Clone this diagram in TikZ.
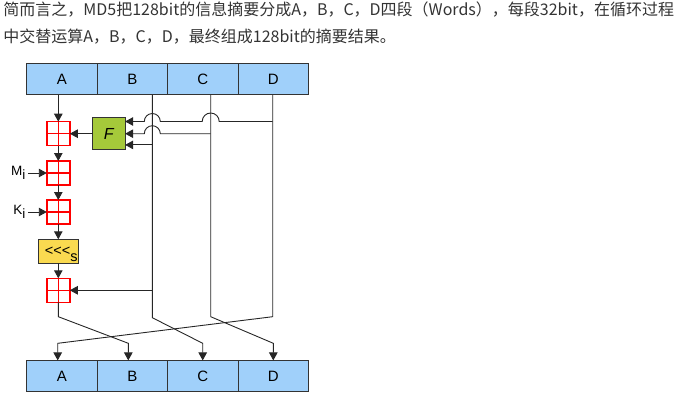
\documentclass[tikz,border=0pt]{standalone}
\usepackage{fontspec}
\setmainfont{Liberation Sans}
\newfontfamily\cjk{Noto Sans CJK SC}
\usepackage{tikz}
\usetikzlibrary{arrows.meta,positioning,calc}
\definecolor{wordblue}{RGB}{160,208,250}
\definecolor{fgreen}{RGB}{165,201,58}
\definecolor{shiftyellow}{RGB}{250,218,80}
\definecolor{textgray}{RGB}{51,51,51}

\begin{document}
\begin{tikzpicture}[
x=1pt, y=-1pt,
>={Triangle[length=8pt,width=8.5pt]}, line width=0.9pt,
word-node/.style = {rectangle,draw=black!80,line width=1pt,fill=wordblue,minimum width=70.4pt,minimum height=31.5pt,inner sep=0pt,outer sep=0pt,font=\fontsize{15}{15}\selectfont},
add-node/.style = {rectangle,draw=red,line width=1.4pt,fill=white,minimum width=23pt,minimum height=24pt,inner sep=0pt,outer sep=0pt,
  path picture={\draw[red,line width=1.4pt] (path picture bounding box.north) -- (path picture bounding box.south)
  (path picture bounding box.west) -- (path picture bounding box.east);}},
func-node/.style = {rectangle,draw=black!80,line width=1pt,fill=fgreen,minimum width=32.6pt,minimum height=32.4pt,inner sep=0pt,outer sep=0pt,font=\fontsize{16}{16}\selectfont\itshape},
shift-node/.style = {rectangle,draw=black!80,line width=1pt,fill=shiftyellow,minimum width=40pt,minimum height=24pt,inner sep=0pt,outer sep=0pt,font=\fontsize{14.5}{14.5}\selectfont},
in-node/.style = {inner sep=0pt,inner xsep=2pt,font=\fontsize{13.5}{13.5}\selectfont},
text-node/.style = {anchor=base west,inner sep=0pt,text=textgray,font=\cjk\fontsize{16}{16}\selectfont},
wire/.style = {draw=black!85}
]
\useasboundingbox (0,0) rectangle (680,404);

% text
\node [text-node] (line1) at (3,15.8) {简而言之，MD5把128bit的信息摘要分成A，B，C，D四段（Words），每段32bit，在循环过程};
\node [text-node] (line2) at (3,42.3) {中交替运算A，B，C，D，最终组成128bit的摘要结果。};

% words
\node [word-node] (topA) at (62,79.2) {A};
\node [word-node, right=0pt of topA] (topB) {B};
\node [word-node, right=0pt of topB] (topC) {C};
\node [word-node, right=0pt of topC] (topD) {D};
\node [word-node] (botA) at (62,376.2) {A};
\node [word-node, right=0pt of botA] (botB) {B};
\node [word-node, right=0pt of botB] (botC) {C};
\node [word-node, right=0pt of botC] (botD) {D};

% round
\node [add-node] (add1) at (58.3,133.7) {};
\node [add-node, below=15.3pt of add1] (add2) {};
\node [add-node, below=15pt of add2] (add3) {};
\node [shift-node, below=15.3pt of add3] (shift) {\hspace*{6pt}<{}<{}<\smash{\raisebox{-6pt}{s}}};
\node [add-node, below=15pt of shift] (add4) {};
\node [func-node, right=22.7pt of add1] (func) {F};
\node [in-node, left=19pt of add2] (mi) {M\raisebox{-4.5pt}{i}};
\node [in-node, left=19pt of add3] (ki) {K\raisebox{-4.5pt}{i}};

% wire bends
\coordinate (bendA) at (58.3,316.7);
\coordinate (bendB) at (152.3,317.7);
\coordinate (bendC) at (210.7,316.7);
\coordinate (bendD) at (272.7,316.7);
\coordinate (dropA) at (57.7,343.3);
\coordinate (dropB) at (128.3,343.3);
\coordinate (dropC) at (202.7,343.3);
\coordinate (dropD) at (273.3,343.3);
\coordinate (fin1) at ($(func.east)+(0,-12.2)$);
\coordinate (fin3) at ($(func.east)+(0,11.2)$);

% arrows
\draw[->, wire] (topA.south -| add1) -- (add1);
\draw[->, wire] (add1) -- (add2);
\draw[->, wire] (add2) -- (add3);
\draw[->, wire] (add3) -- (shift);
\draw[->, wire] (shift) -- (add4);
\draw[->, wire] (func) -- (add1);
\draw[->, wire] (mi) -- (add2);
\draw[->, wire] (ki) -- (add3);
\draw[->, wire] (bendD |- fin1) -- ($(bendC |- fin1)+(8.5pt,0)$) arc[start angle=0,end angle=180,radius=8.5pt]
  -- ($(bendB |- fin1)+(8pt,0)$) arc[start angle=0,end angle=180,radius=8pt] -- (fin1);
\draw[->, wire] (bendC |- func.east) -- ($(bendB |- func.east)+(8pt,0)$) arc[start angle=0,end angle=180,radius=8pt] -- (func.east);
\draw[->, wire] (bendB |- fin3) -- (fin3);
\draw[->, wire] (bendB |- add4) -- (add4);

\draw[->, wire] (add4) -- (bendA) -- (dropB) -- (dropB |- botB.north);
\draw[->, wire] (topB.south -| bendB) -- (bendB) -- (dropC) -- (dropC |- botC.north);
\draw[->, wire] (topC.south -| bendC) -- (bendC) -- (dropD) -- (dropD |- botD.north);
\draw[->, wire] (topD.south -| bendD) -- (bendD) -- (dropA) -- (dropA |- botA.north);

\end{tikzpicture}
\end{document}
